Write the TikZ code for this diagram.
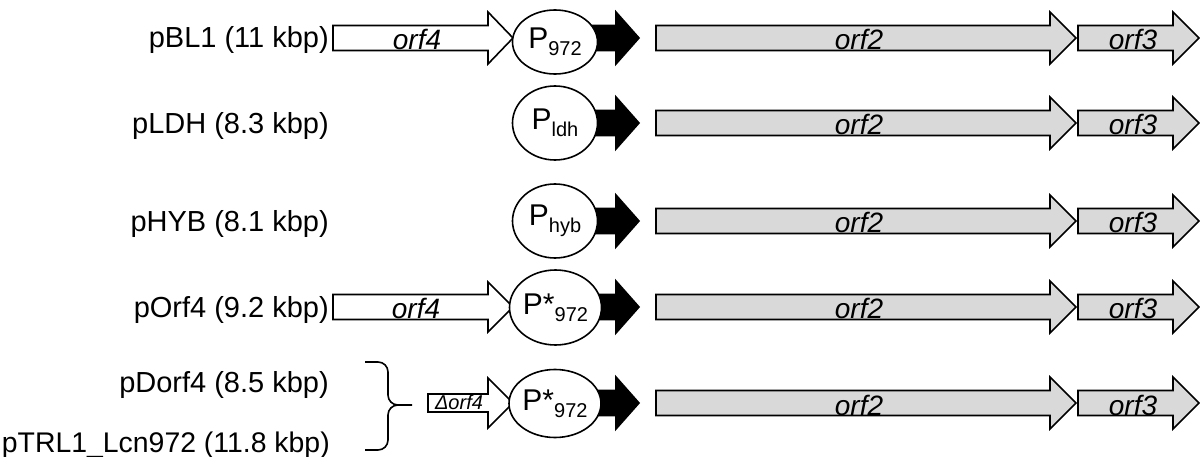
\documentclass[tikz,border=0pt]{standalone}
\usepackage{fontspec}
\setmainfont{Liberation Sans}
\usetikzlibrary{shapes.geometric}
\definecolor{genegray}{HTML}{D9D9D9}
\newcommand\genearrow[7]{% #1 left, #2 head start, #3 tip, #4 centre y, #5 half body, #6 half head, #7 style
  \draw[#7] (#1,#4-#5) -- (#2,#4-#5) -- (#2,#4-#6) -- (#3,#4) -- (#2,#4+#6) -- (#2,#4+#5) -- (#1,#4+#5) -- cycle;}
\newcommand\Psub[2]{P#1\raisebox{-7pt}{\fontsize{20}{22}\selectfont #2}}
\begin{document}
\begin{tikzpicture}[x=1pt,y=-1pt,
  lbl/.style={anchor=base east, inner sep=0pt, font=\fontsize{29}{34}\selectfont},
  genetext/.style={anchor=base, inner sep=0pt, font=\fontsize{28}{32}\selectfont\itshape},
  smallgenetext/.style={anchor=base, inner sep=0pt, font=\fontsize{20}{23}\selectfont\itshape},
  prom/.style={ellipse, draw, fill=white, line width=1.6pt, minimum width=85pt, inner sep=0pt, font=\fontsize{30}{34}\selectfont},
  whitearrow/.style={draw, fill=white, line width=1.6pt, line join=miter},
  grayarrow/.style={draw, fill=genegray, line width=1.6pt, line join=miter},
  blackarrow/.style={draw, fill=black, line width=1.6pt, line join=miter},
  bracestyle/.style={draw, line width=1.6pt}]
\useasboundingbox (0,0) rectangle (1200,457);

% ---------- labels ----------
\node[lbl] (l1) at (329,48) {pBL1 (11 kbp)};
\node[lbl] (l2) at (329,134) {pLDH (8.3 kbp)};
\node[lbl] (l3) at (329,232) {pHYB (8.1 kbp)};
\node[lbl] (l4) at (329,317) {pOrf4 (9.2 kbp)};
\node[lbl] (l5a) at (329,392) {pDorf4 (8.5 kbp)};
\node[lbl, font=\fontsize{28.4}{33}\selectfont] (l5b) at (330,452) {pTRL1\_Lcn972 (11.8 kbp)};

% ---------- brace ----------
\draw[bracestyle] (365,362) -- (378,362) to[out=0,in=90] (388,372) -- (388,395)
  to[out=-90,in=180] (398,405) -- (412,405);
\draw[bracestyle] (398,405) to[out=180,in=90] (388,415) -- (388,440)
  to[out=-90,in=0] (378,450) -- (365,450);

% ---------- row 1 ----------
\genearrow{333}{488}{513}{38}{12.5}{26}{whitearrow}
\node[genetext] (t1a) at (417,50) {orf4};
\genearrow{590}{616}{639}{38}{12.5}{26}{blackarrow}
\node[prom, minimum height=64pt] (p1) at (555,42) {\Psub{}{972}};
\genearrow{656}{1050}{1076}{38}{12.5}{26}{grayarrow}
\node[genetext] (t1b) at (859,50) {orf2};
\genearrow{1078}{1173}{1199}{38}{12.5}{26}{grayarrow}
\node[genetext] (t1c) at (1133,50) {orf3};

% ---------- row 2 ----------
\genearrow{590}{616}{639}{123}{12.5}{26}{blackarrow}
\node[prom, minimum height=74pt] (p2) at (555,123) {\Psub{}{ldh}};
\genearrow{656}{1050}{1076}{123}{12.5}{26}{grayarrow}
\node[genetext] (t2b) at (859,135) {orf2};
\genearrow{1078}{1173}{1199}{123}{12.5}{26}{grayarrow}
\node[genetext] (t2c) at (1133,135) {orf3};

% ---------- row 3 ----------
\genearrow{590}{616}{639}{221}{12.5}{26}{blackarrow}
\node[prom, minimum height=74pt] (p3) at (555,221) {\Psub{}{hyb}};
\genearrow{656}{1050}{1076}{221}{12.5}{26}{grayarrow}
\node[genetext] (t3b) at (859,233) {orf2};
\genearrow{1078}{1173}{1199}{221}{12.5}{26}{grayarrow}
\node[genetext] (t3c) at (1133,233) {orf3};

% ---------- row 4 ----------
\genearrow{333}{488}{513}{307}{12.5}{25}{whitearrow}
\node[genetext] (t4a) at (416,319) {orf4};
\genearrow{590}{616}{639}{307}{12.5}{26}{blackarrow}
\node[prom, minimum height=75pt] (p4) at (555.5,307.5) {\Psub{*}{972}};
\genearrow{656}{1050}{1076}{307}{12.5}{26}{grayarrow}
\node[genetext] (t4b) at (859,319) {orf2};
\genearrow{1078}{1173}{1199}{307}{12.5}{26}{grayarrow}
\node[genetext] (t4c) at (1133,319) {orf3};

% ---------- row 5 ----------
\genearrow{428}{488}{513}{403}{9}{25}{whitearrow}
\node[smallgenetext] (t5a) at (459,409.5) {Δorf4};
\genearrow{590}{616}{639}{403}{12.5}{26}{blackarrow}
\node[prom, minimum height=68pt] (p5) at (555,403.5) {\Psub{*}{972}};
\genearrow{656}{1050}{1076}{403}{12.5}{26}{grayarrow}
\node[genetext] (t5b) at (859,415) {orf2};
\genearrow{1078}{1173}{1199}{403}{12.5}{26}{grayarrow}
\node[genetext] (t5c) at (1133,415) {orf3};
\end{tikzpicture}
\end{document}
